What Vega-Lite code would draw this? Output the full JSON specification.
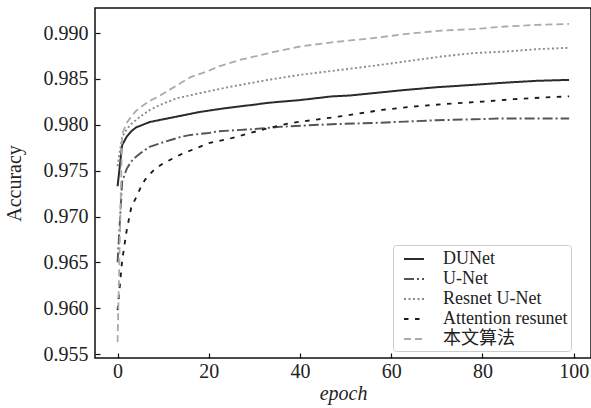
{
  "$schema": "https://vega.github.io/schema/vega-lite/v6.json",
  "width": 496,
  "height": 350,
  "autosize": {"type": "none"},
  "padding": {"left": 95, "top": 8, "right": 0, "bottom": 50},
  "background": "white",
  "config": {
    "font": "Liberation Serif, Noto Sans CJK SC",
    "view": {"stroke": "#111", "strokeWidth": 1.5},
    "axis": {
      "grid": false,
      "domain": false,
      "tickColor": "#111",
      "tickWidth": 1.2,
      "tickSize": -5,
      "labelFont": "Liberation Serif",
      "labelFontSize": 20,
      "labelColor": "#222",
      "titleFont": "Liberation Serif",
      "titleFontSize": 20,
      "titleFontWeight": "normal",
      "titleColor": "#222"
    },
    "legend": {
      "labelFont": "Liberation Serif, Noto Sans CJK SC",
      "labelFontSize": 18,
      "labelColor": "#222"
    }
  },
  "data": {
    "values": [
      {"epoch": 0, "acc": 0.9733, "model": "DUNet"},
      {"epoch": 1, "acc": 0.9778, "model": "DUNet"},
      {"epoch": 2, "acc": 0.9787, "model": "DUNet"},
      {"epoch": 3, "acc": 0.9793, "model": "DUNet"},
      {"epoch": 4, "acc": 0.9797, "model": "DUNet"},
      {"epoch": 5, "acc": 0.9799, "model": "DUNet"},
      {"epoch": 7, "acc": 0.9803, "model": "DUNet"},
      {"epoch": 10, "acc": 0.9806, "model": "DUNet"},
      {"epoch": 12, "acc": 0.9808, "model": "DUNet"},
      {"epoch": 14, "acc": 0.981, "model": "DUNet"},
      {"epoch": 18, "acc": 0.9814, "model": "DUNet"},
      {"epoch": 22, "acc": 0.9817, "model": "DUNet"},
      {"epoch": 25, "acc": 0.9819, "model": "DUNet"},
      {"epoch": 30, "acc": 0.9822, "model": "DUNet"},
      {"epoch": 33, "acc": 0.9824, "model": "DUNet"},
      {"epoch": 40, "acc": 0.9827, "model": "DUNet"},
      {"epoch": 47, "acc": 0.9831, "model": "DUNet"},
      {"epoch": 51, "acc": 0.9832, "model": "DUNet"},
      {"epoch": 56, "acc": 0.98345, "model": "DUNet"},
      {"epoch": 63, "acc": 0.9838, "model": "DUNet"},
      {"epoch": 70, "acc": 0.9841, "model": "DUNet"},
      {"epoch": 78, "acc": 0.98436, "model": "DUNet"},
      {"epoch": 85, "acc": 0.9846, "model": "DUNet"},
      {"epoch": 92, "acc": 0.9848, "model": "DUNet"},
      {"epoch": 99, "acc": 0.9849, "model": "DUNet"},

      {"epoch": 0, "acc": 0.965, "model": "U-Net"},
      {"epoch": 1, "acc": 0.9738, "model": "U-Net"},
      {"epoch": 2, "acc": 0.9752, "model": "U-Net"},
      {"epoch": 3, "acc": 0.976, "model": "U-Net"},
      {"epoch": 4, "acc": 0.9765, "model": "U-Net"},
      {"epoch": 5, "acc": 0.9769, "model": "U-Net"},
      {"epoch": 7, "acc": 0.9776, "model": "U-Net"},
      {"epoch": 10, "acc": 0.9781, "model": "U-Net"},
      {"epoch": 12, "acc": 0.9784, "model": "U-Net"},
      {"epoch": 14, "acc": 0.9787, "model": "U-Net"},
      {"epoch": 16, "acc": 0.9789, "model": "U-Net"},
      {"epoch": 20, "acc": 0.9791, "model": "U-Net"},
      {"epoch": 22, "acc": 0.9793, "model": "U-Net"},
      {"epoch": 29, "acc": 0.9795, "model": "U-Net"},
      {"epoch": 36, "acc": 0.9798, "model": "U-Net"},
      {"epoch": 44, "acc": 0.98, "model": "U-Net"},
      {"epoch": 49, "acc": 0.9801, "model": "U-Net"},
      {"epoch": 56, "acc": 0.9802, "model": "U-Net"},
      {"epoch": 63, "acc": 0.98035, "model": "U-Net"},
      {"epoch": 70, "acc": 0.9805, "model": "U-Net"},
      {"epoch": 78, "acc": 0.9806, "model": "U-Net"},
      {"epoch": 85, "acc": 0.9807, "model": "U-Net"},
      {"epoch": 92, "acc": 0.9807, "model": "U-Net"},
      {"epoch": 99, "acc": 0.9807, "model": "U-Net"},

      {"epoch": 0, "acc": 0.9755, "model": "Resnet U-Net"},
      {"epoch": 1, "acc": 0.9787, "model": "Resnet U-Net"},
      {"epoch": 2, "acc": 0.9795, "model": "Resnet U-Net"},
      {"epoch": 3, "acc": 0.9801, "model": "Resnet U-Net"},
      {"epoch": 5, "acc": 0.9809, "model": "Resnet U-Net"},
      {"epoch": 7, "acc": 0.9816, "model": "Resnet U-Net"},
      {"epoch": 9, "acc": 0.9821, "model": "Resnet U-Net"},
      {"epoch": 13, "acc": 0.9829, "model": "Resnet U-Net"},
      {"epoch": 18, "acc": 0.98345, "model": "Resnet U-Net"},
      {"epoch": 25, "acc": 0.98418, "model": "Resnet U-Net"},
      {"epoch": 33, "acc": 0.9849, "model": "Resnet U-Net"},
      {"epoch": 40, "acc": 0.98545, "model": "Resnet U-Net"},
      {"epoch": 49, "acc": 0.986, "model": "Resnet U-Net"},
      {"epoch": 56, "acc": 0.98643, "model": "Resnet U-Net"},
      {"epoch": 63, "acc": 0.9869, "model": "Resnet U-Net"},
      {"epoch": 71, "acc": 0.98745, "model": "Resnet U-Net"},
      {"epoch": 78, "acc": 0.98782, "model": "Resnet U-Net"},
      {"epoch": 85, "acc": 0.98799, "model": "Resnet U-Net"},
      {"epoch": 92, "acc": 0.98825, "model": "Resnet U-Net"},
      {"epoch": 99, "acc": 0.9884, "model": "Resnet U-Net"},

      {"epoch": 0, "acc": 0.9598, "model": "Attention resunet"},
      {"epoch": 1, "acc": 0.9652, "model": "Attention resunet"},
      {"epoch": 2, "acc": 0.9685, "model": "Attention resunet"},
      {"epoch": 3, "acc": 0.971, "model": "Attention resunet"},
      {"epoch": 4, "acc": 0.972, "model": "Attention resunet"},
      {"epoch": 5, "acc": 0.9731, "model": "Attention resunet"},
      {"epoch": 6, "acc": 0.974, "model": "Attention resunet"},
      {"epoch": 8, "acc": 0.9751, "model": "Attention resunet"},
      {"epoch": 10, "acc": 0.9758, "model": "Attention resunet"},
      {"epoch": 12, "acc": 0.9763, "model": "Attention resunet"},
      {"epoch": 14, "acc": 0.9768, "model": "Attention resunet"},
      {"epoch": 16, "acc": 0.9772, "model": "Attention resunet"},
      {"epoch": 20, "acc": 0.978, "model": "Attention resunet"},
      {"epoch": 25, "acc": 0.97855, "model": "Attention resunet"},
      {"epoch": 29, "acc": 0.9791, "model": "Attention resunet"},
      {"epoch": 33, "acc": 0.97963, "model": "Attention resunet"},
      {"epoch": 38, "acc": 0.9802, "model": "Attention resunet"},
      {"epoch": 44, "acc": 0.9806, "model": "Attention resunet"},
      {"epoch": 50, "acc": 0.981, "model": "Attention resunet"},
      {"epoch": 58, "acc": 0.98163, "model": "Attention resunet"},
      {"epoch": 65, "acc": 0.982, "model": "Attention resunet"},
      {"epoch": 72, "acc": 0.98228, "model": "Attention resunet"},
      {"epoch": 80, "acc": 0.98253, "model": "Attention resunet"},
      {"epoch": 87, "acc": 0.9828, "model": "Attention resunet"},
      {"epoch": 94, "acc": 0.983, "model": "Attention resunet"},
      {"epoch": 99, "acc": 0.9831, "model": "Attention resunet"},

      {"epoch": 0, "acc": 0.9563, "model": "本文算法"},
      {"epoch": 1, "acc": 0.979, "model": "本文算法"},
      {"epoch": 2, "acc": 0.9802, "model": "本文算法"},
      {"epoch": 3, "acc": 0.9809, "model": "本文算法"},
      {"epoch": 4, "acc": 0.9815, "model": "本文算法"},
      {"epoch": 5, "acc": 0.9819, "model": "本文算法"},
      {"epoch": 7, "acc": 0.9826, "model": "本文算法"},
      {"epoch": 9, "acc": 0.9831, "model": "本文算法"},
      {"epoch": 12, "acc": 0.984, "model": "本文算法"},
      {"epoch": 16, "acc": 0.9852, "model": "本文算法"},
      {"epoch": 20, "acc": 0.9859, "model": "本文算法"},
      {"epoch": 22, "acc": 0.98635, "model": "本文算法"},
      {"epoch": 27, "acc": 0.9871, "model": "本文算法"},
      {"epoch": 33, "acc": 0.9878, "model": "本文算法"},
      {"epoch": 40, "acc": 0.98854, "model": "本文算法"},
      {"epoch": 47, "acc": 0.989, "model": "本文算法"},
      {"epoch": 56, "acc": 0.98945, "model": "本文算法"},
      {"epoch": 63, "acc": 0.9899, "model": "本文算法"},
      {"epoch": 71, "acc": 0.99028, "model": "本文算法"},
      {"epoch": 78, "acc": 0.99044, "model": "本文算法"},
      {"epoch": 85, "acc": 0.99072, "model": "本文算法"},
      {"epoch": 92, "acc": 0.9909, "model": "本文算法"},
      {"epoch": 99, "acc": 0.991, "model": "本文算法"}
    ]
  },
  "mark": {"type": "line", "clip": true, "strokeCap": "butt"},
  "encoding": {
    "x": {
      "field": "epoch",
      "type": "quantitative",
      "scale": {"domain": [-4.95, 103.8], "nice": false, "zero": false},
      "axis": {"values": [0, 20, 40, 60, 80, 100], "title": "epoch", "titleFontStyle": "italic", "labelPadding": 8, "titlePadding": 2, "labelFlush": false}
    },
    "y": {
      "field": "acc",
      "type": "quantitative",
      "scale": {"domain": [0.95457, 0.99274], "nice": false, "zero": false},
      "axis": {"values": [0.955, 0.96, 0.965, 0.97, 0.975, 0.98, 0.985, 0.99], "format": ".3f", "title": "Accuracy", "labelPadding": 12, "titlePadding": 19}
    },
    "color": {
      "field": "model",
      "type": "nominal",
      "scale": {
        "domain": ["DUNet", "U-Net", "Resnet U-Net", "Attention resunet", "本文算法"],
        "range": ["#2b2b2b", "#555555", "#8a8a8a", "#1a1a1a", "#ababab"]
      },
      "legend": {
        "title": null,
        "orient": "none",
        "legendX": 298,
        "legendY": 237,
        "symbolType": "stroke",
        "symbolSize": 400,
        "padding": 3,
        "symbolOffset": 7,
        "rowPadding": 0,
        "labelOffset": 18,
        "labelExpr": "datum.label + '   '",
        "strokeColor": "#cccccc",
        "fillColor": "white",
        "cornerRadius": 3
      }
    },
    "strokeDash": {
      "field": "model",
      "type": "nominal",
      "scale": {
        "domain": ["DUNet", "U-Net", "Resnet U-Net", "Attention resunet", "本文算法"],
        "range": [[1, 0], [10, 3, 2, 3], [2, 2.5], [4.5, 6.5], [7, 4]]
      },
      "legend": null
    },
    "strokeWidth": {
      "field": "model",
      "type": "nominal",
      "scale": {
        "domain": ["DUNet", "U-Net", "Resnet U-Net", "Attention resunet", "本文算法"],
        "range": [2, 1.8, 2, 4.5, 2]
      },
      "legend": null
    }
  }
}
